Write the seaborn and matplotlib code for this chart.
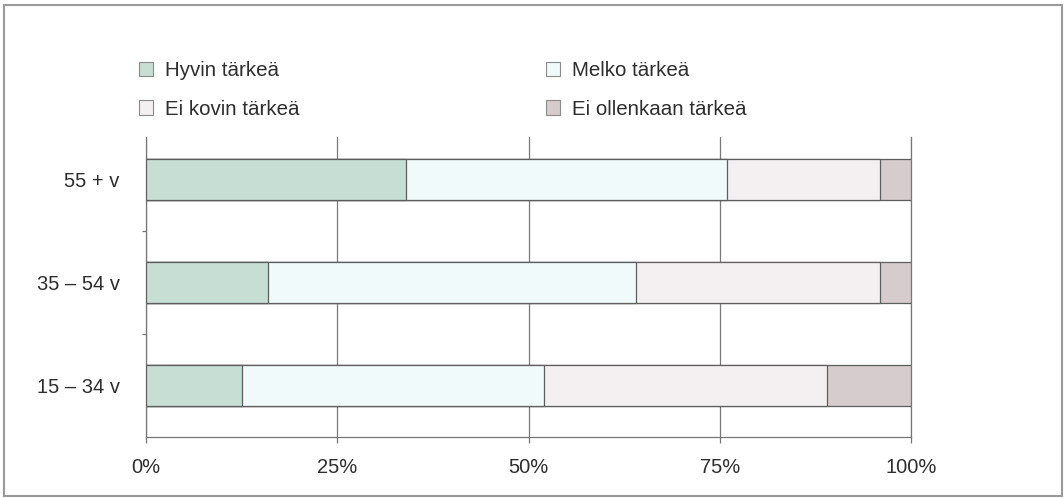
import matplotlib
matplotlib.use('Agg')
import matplotlib.pyplot as plt
import matplotlib.patches as mpatches
import seaborn as sns
import pandas as pd

# Ikaryhmat ja vastausten osuudet (%)
groups = ['55 + v', '35 – 54 v', '15 – 34 v']
categories = ['Hyvin tärkeä', 'Melko tärkeä', 'Ei kovin tärkeä', 'Ei ollenkaan tärkeä']
hyvin = [34, 16, 12.5]
melko = [42, 48, 39.5]
ei_kovin = [20, 32, 37]
ei_ollenkaan = [4, 4, 11]
x_ticks = [0, 25, 50, 75, 100]
x_labels = ['0%', '25%', '50%', '75%', '100%']

colors = ['#c6ded4', '#f0fafa', '#f4eff1', '#d6cbcd']
edge = '#5e5e5e'

sns.set_theme(style='white')
plt.rcParams['font.family'] = ['Liberation Sans', 'DejaVu Sans']

df = pd.DataFrame({'group': groups, categories[0]: hyvin, categories[1]: melko,
                   categories[2]: ei_kovin, categories[3]: ei_ollenkaan})
cum = df[categories].cumsum(axis=1)
cum['group'] = df['group']

fig = plt.figure(figsize=(10.64, 4.98), dpi=100)
ax = fig.add_axes([146 / 1064, 1 - 437 / 498, (911 - 146) / 1064, (437 - 137) / 498])

# pinotut palkit: piirretaan kumulatiiviset summat suurimmasta pienimpaan
for cat, col in reversed(list(zip(categories, colors))):
    sns.barplot(data=cum, x=cat, y='group', order=groups, color=col, width=0.4,
                edgecolor=edge, linewidth=0.9, saturation=1, ax=ax, zorder=3)

ax.set_xlim(0, 100)
ax.set_ylim(2.5, -0.41)
ax.set_xlabel('')
ax.set_ylabel('')
ax.set_xticks(x_ticks)
ax.set_xticklabels(x_labels)
ax.set_yticks([0, 1, 2])
ax.set_yticklabels(groups)
ax.set_yticks([0.5, 1.5], minor=True)
ax.tick_params(axis='x', direction='out', length=4, width=0.9, color='#777777',
               labelsize=14.5, labelcolor='#2e2e2e', pad=11, bottom=True)
ax.tick_params(axis='y', which='major', length=0, labelsize=14.5,
               labelcolor='#2e2e2e', pad=19)
ax.tick_params(axis='y', which='minor', direction='out', length=3, width=0.9,
               color='#777777', left=True)
ax.grid(axis='x', color='#7a7a7a', linewidth=0.9)
ax.grid(axis='y', visible=False)
ax.set_axisbelow(True)
ax.spines['top'].set_visible(False)
for s in ['left', 'bottom', 'right']:
    ax.spines[s].set_visible(True)
    ax.spines[s].set_color('#777777')
    ax.spines[s].set_linewidth(0.9)

# selite kahdessa sarakkeessa
handles = [mpatches.Patch(facecolor=c, edgecolor='#8a8a8a', linewidth=0.8) for c in colors]
leg_kw = dict(loc='upper left', frameon=False, fontsize=14.8, handlelength=0.7,
              handleheight=0.7, handletextpad=0.55, labelspacing=0.95, borderpad=0,
              borderaxespad=0, labelcolor='#2e2e2e')
leg1 = fig.legend([handles[0], handles[2]], [categories[0], categories[2]],
                  bbox_to_anchor=(139 / 1064, 1 - 61 / 498), **leg_kw)
leg2 = fig.legend([handles[1], handles[3]], [categories[1], categories[3]],
                  bbox_to_anchor=(546 / 1064, 1 - 61 / 498), **leg_kw)

# kehys kuvan ympari
fig.patches.append(mpatches.Rectangle((4 / 1064, 2 / 498), 1058 / 1064, 491 / 498,
                                      transform=fig.transFigure, fill=False,
                                      edgecolor='#9a9a9a', linewidth=1.5))

fig.savefig('out.png', dpi=100)
